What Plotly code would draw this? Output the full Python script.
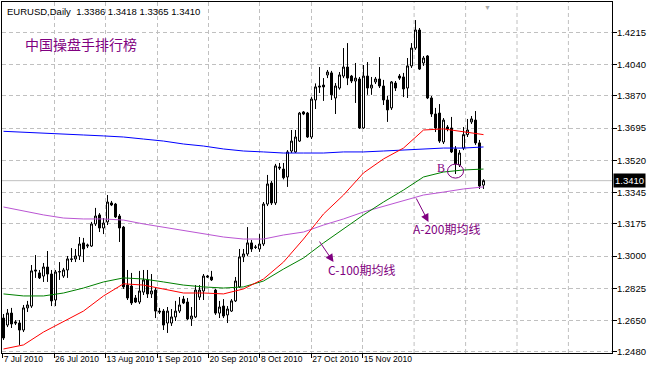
import plotly.graph_objects as go

# ---- data (EURUSD daily) ----
opens = [1.2664,1.2626,1.2691,1.2643,1.2637,1.2599,1.2719,1.2729,1.2925,1.2909,
         1.2892,1.2941,1.2903,1.2762,1.2914,1.2892,1.2925,1.2985,1.2985,1.3001,
         1.3072,1.3055,1.3055,1.3175,1.3224,1.3153,1.3186,1.3289,1.3283,1.3218,
         1.3158,1.2843,1.2838,1.2773,1.2751,1.2805,1.2871,1.2795,1.2816,1.2702,
         1.2702,1.2637,1.2637,1.2670,1.2702,1.2767,1.2751,1.2659,1.2670,1.2778,
         1.2811,1.2892,1.2887,1.2816,1.2691,1.2729,1.2681,1.2702,1.2757,1.2833,
         1.2996,1.3012,1.3072,1.3050,1.3039,1.3066,1.3283,1.3397,1.3289,1.3484,
         1.3473,1.3430,1.3571,1.3566,1.3625,1.3783,1.3777,1.3647,1.3848,1.3924,
         1.3929,1.3984,1.3995,1.3859,1.3913,1.3978,1.4027,1.3978,1.3951,1.3962,
         1.3696,1.3978,1.3913,1.3946,1.3962,1.3924,1.3848,1.3805,1.3940,1.3978,
         1.3973,1.3913,1.4033,1.4130,1.4228,1.4049,1.4087,1.3859,1.3772,1.3777,
         1.3620,1.3701,1.3696,1.3582,1.3495,1.3587,1.3660,1.3729,1.3739,1.3615,
         1.3386]
highs = [1.2686,1.2713,1.2719,1.2653,1.2653,1.2735,1.2757,1.2952,1.3006,1.2925,
         1.2963,1.3028,1.2925,1.2925,1.2968,1.2936,1.3001,1.3044,1.3039,1.3104,
         1.3099,1.3068,1.3186,1.3262,1.3234,1.3207,1.3332,1.3300,1.3289,1.3229,
         1.3164,1.2925,1.2909,1.2789,1.2920,1.2925,1.2925,1.2903,1.2827,1.2719,
         1.2713,1.2724,1.2713,1.2757,1.2778,1.2784,1.2773,1.2724,1.2843,1.2843,
         1.2903,1.2898,1.2920,1.2822,1.2757,1.2767,1.2729,1.2767,1.2887,1.3039,
         1.3039,1.3158,1.3088,1.3061,1.3120,1.3294,1.3441,1.3408,1.3501,1.3506,
         1.3506,1.3576,1.3685,1.3685,1.3783,1.3788,1.3783,1.3864,1.3938,1.4027,
         1.3967,1.4011,1.4006,1.3940,1.4000,1.4130,1.4157,1.3984,1.4049,1.3973,
         1.4038,1.4054,1.3973,1.3973,1.4081,1.3957,1.3870,1.3951,1.3951,1.3989,
         1.3995,1.4076,1.4157,1.4282,1.4239,1.4087,1.4092,1.3870,1.3805,1.3826,
         1.3750,1.3712,1.3756,1.3598,1.3576,1.3701,1.3745,1.3761,1.3788,1.3631,
         1.3418]
lows = [1.2545,1.2615,1.2610,1.2626,1.2518,1.2588,1.2697,1.2719,1.2882,1.2876,
        1.2860,1.2860,1.2729,1.2729,1.2871,1.2882,1.2882,1.2968,1.2968,1.2979,
        1.2968,1.3044,1.3050,1.3164,1.3131,1.3120,1.3169,1.3272,1.3207,1.3077,
        1.2822,1.2762,1.2735,1.2746,1.2740,1.2789,1.2773,1.2773,1.2664,1.2686,
        1.2599,1.2583,1.2621,1.2648,1.2691,1.2740,1.2653,1.2621,1.2664,1.2762,
        1.2762,1.2882,1.2865,1.2681,1.2664,1.2664,1.2637,1.2697,1.2751,1.2827,
        1.2968,1.3001,1.3023,1.3039,1.3023,1.3055,1.3272,1.3278,1.3278,1.3468,
        1.3417,1.3376,1.3560,1.3560,1.3620,1.3766,1.3642,1.3636,1.3799,1.3886,
        1.3843,1.3967,1.3848,1.3772,1.3904,1.3967,1.3929,1.3940,1.3832,1.3691,
        1.3691,1.3876,1.3876,1.3935,1.3913,1.3821,1.3729,1.3794,1.3897,1.3957,
        1.3864,1.3859,1.4022,1.4120,1.4011,1.4033,1.3853,1.3756,1.3674,1.3615,
        1.3609,1.3678,1.3560,1.3446,1.3484,1.3576,1.3647,1.3718,1.3604,1.3365,
        1.3365]
closes = [1.2556,1.2691,1.2632,1.2637,1.2599,1.2719,1.2735,1.2920,1.2920,1.2882,
          1.2941,1.2903,1.2757,1.2914,1.2916,1.2925,1.2985,1.2983,1.3001,1.3066,
          1.3039,1.3060,1.3175,1.3218,1.3153,1.3180,1.3294,1.3278,1.3213,1.3153,
          1.2833,1.2773,1.2746,1.2751,1.2811,1.2871,1.2795,1.2811,1.2702,1.2697,
          1.2626,1.2702,1.2670,1.2702,1.2735,1.2746,1.2659,1.2675,1.2816,1.2816,
          1.2892,1.2887,1.2871,1.2691,1.2724,1.2675,1.2713,1.2757,1.2865,1.2996,
          1.3012,1.3072,1.3039,1.3048,1.3066,1.3283,1.3392,1.3289,1.3490,1.3479,
          1.3426,1.3566,1.3625,1.3647,1.3777,1.3772,1.3647,1.3853,1.3919,1.3919,
          1.3919,1.4000,1.3876,1.3924,1.3984,1.4027,1.3967,1.3951,1.3967,1.3696,
          1.3978,1.3913,1.3929,1.3962,1.3924,1.3848,1.3794,1.3946,1.3913,1.3967,
          1.3908,1.4033,1.4130,1.4228,1.4016,1.4076,1.3859,1.3772,1.3696,1.3625,
          1.3739,1.3691,1.3566,1.3501,1.3560,1.3660,1.3685,1.3745,1.3615,1.3381,
          1.3410]

# moving averages, sampled every 5 bars
ma_bar = [0,5,10,15,20,25,30,35,40,45,50,55,60,65,70,75,80,85,90,95,100,105,110,115,120]
ma_blue = [1.3678,1.3674,1.3669,1.3663,1.3658,1.3653,1.3647,1.3636,1.3625,1.3609,1.3598,1.3582,1.3571,
           1.3566,1.3560,1.3560,1.3560,1.3566,1.3566,1.3571,1.3576,1.3582,1.3587,1.3587,1.3593]
ma_red = [1.2496,1.2518,1.2588,1.2643,1.2702,1.2784,1.2850,1.2843,1.2822,1.2800,1.2800,1.2795,1.2822,
          1.2876,1.2968,1.3093,1.3229,1.3332,1.3452,1.3528,1.3587,1.3685,1.3691,1.3674,1.3660]
ma_green = [1.2795,1.2784,1.2784,1.2800,1.2827,1.2860,1.2882,1.2876,1.2860,1.2843,1.2833,1.2827,1.2833,
            1.2865,1.2930,1.2990,1.3072,1.3148,1.3224,1.3294,1.3359,1.3430,1.3457,1.3468,1.3473]
ma_purple = [1.3267,1.3245,1.3224,1.3207,1.3202,1.3202,1.3196,1.3175,1.3158,1.3137,1.3120,1.3104,1.3093,
             1.3093,1.3115,1.3131,1.3169,1.3202,1.3240,1.3272,1.3300,1.3332,1.3348,1.3365,1.3376]

price_ticks = [1.2480,1.2650,1.2825,1.3000,1.3175,1.3345,1.3520,1.3695,1.3870,1.4040,1.4215]
date_labels = ["7 Jul 2010","26 Jul 2010","13 Aug 2010","1 Sep 2010","20 Sep 2010",
               "8 Oct 2010","27 Oct 2010","15 Nov 2010"]
date_bar = [-0.2,12.65,25.525,38.375,51.225,64.1,76.95,89.8]
extra_grid_bar = [102.65,115.525,128.375,141.225]
last_price = 1.3410

bars = list(range(len(opens)))
PURPLE = "#800080"
GRID = "#c0c0c0"

fig = go.Figure()
fig.add_trace(go.Candlestick(
    x=bars, open=opens, high=highs, low=lows, close=closes,
    increasing=dict(line=dict(color="black", width=1), fillcolor="white"),
    decreasing=dict(line=dict(color="black", width=1), fillcolor="black"),
    whiskerwidth=0, hoverinfo="skip", showlegend=False))

for ys, col in [(ma_blue, "#0000ff"), (ma_purple, "#ba55d3"), (ma_green, "#008000"), (ma_red, "#ff0000")]:
    fig.add_trace(go.Scatter(x=ma_bar, y=ys, mode="lines", line=dict(color=col, width=1),
                             hoverinfo="skip", showlegend=False))

shapes = []
for b in extra_grid_bar:
    shapes.append(dict(type="line", xref="x", yref="paper", x0=b, x1=b, y0=0, y1=1,
                       line=dict(color=GRID, width=1, dash="4px,3px"), layer="below"))
shapes.append(dict(type="line", xref="paper", yref="y", x0=0, x1=1, y0=last_price, y1=last_price,
                   line=dict(color=GRID, width=1), layer="below"))
shapes.append(dict(type="circle", xref="x", yref="y", x0=111, x1=115, y0=1.3424, y1=1.3500,
                   line=dict(color=PURPLE, width=1)))

annotations = [
    dict(xref="paper", yref="paper", x=0.005, y=0.974, xanchor="left", yanchor="middle",
         text="EURUSD,Daily  1.3386 1.3418 1.3365 1.3410", showarrow=False,
         font=dict(family="Liberation Sans, Arial", size=9.5, color="black")),
    dict(xref="paper", yref="paper", x=0.034, y=0.880, xanchor="left", yanchor="middle",
         text="中国操盘手排行榜", showarrow=False,
         font=dict(family="Noto Sans CJK SC", size=14, color=PURPLE)),
    dict(xref="x", yref="y", x=109.25, y=1.3479, text="B", showarrow=False,
         font=dict(family="Liberation Serif", size=12, color=PURPLE)),
    dict(xref="x", yref="y", x=101.75, y=1.3148, xanchor="left", text="A-200期均线", showarrow=False,
         font=dict(family="Noto Sans CJK SC", size=12, color=PURPLE)),
    dict(xref="x", yref="y", x=80.5, y=1.2925, xanchor="left", text="C-100期均线", showarrow=False,
         font=dict(family="Noto Sans CJK SC", size=12, color=PURPLE)),
    dict(xref="x", yref="y", x=106.25, y=1.3186, ax=-13, ay=-25, text="", showarrow=True,
         arrowhead=2, arrowsize=1.6, arrowwidth=1, arrowcolor=PURPLE),
    dict(xref="x", yref="y", x=82.5, y=1.2968, ax=-15, ay=-22, text="", showarrow=True,
         arrowhead=2, arrowsize=1.6, arrowwidth=1, arrowcolor=PURPLE),
    dict(xref="paper", yref="y", x=1, y=last_price, xanchor="left", yanchor="middle", xshift=1,
         text="1.3410", showarrow=False, bgcolor="black", borderpad=1,
         font=dict(family="Liberation Sans, Arial", size=9.5, color="white")),
    dict(xref="x", yref="paper", x=121, y=1, yanchor="top", text="▼", showarrow=False,
         font=dict(size=7, color="#a8a8a8")),
]

fig.update_layout(
    width=651, height=370, margin=dict(l=2, r=39, t=2, b=17, autoexpand=False),
    paper_bgcolor="white", plot_bgcolor="white", showlegend=False,
    font=dict(family="Liberation Sans, Arial", size=9.5, color="black"),
    boxgap=0.5, boxgroupgap=0,
    shapes=shapes, annotations=annotations,
    xaxis=dict(range=[-0.375, 152.125], tickvals=date_bar, ticktext=date_labels, automargin=False,
               ticks="outside", ticklen=4, tickcolor="black", ticklabelposition="outside right",
               tickangle=0, ticklabelstandoff=-2, tickfont=dict(size=8.5),
               showline=True, linecolor="black", linewidth=1, mirror=True,
               showgrid=True, gridcolor=GRID, griddash="4px,3px", zeroline=False,
               rangeslider=dict(visible=False), fixedrange=True),
    yaxis=dict(side="right", range=[1.24742, 1.43801], tickvals=price_ticks, automargin=False,
               ticktext=[f"{v:.4f}" for v in price_ticks], ticklabelstandoff=-2,
               ticks="outside", ticklen=4, tickcolor="black",
               showline=True, linecolor="black", linewidth=1, mirror=True,
               showgrid=True, gridcolor=GRID, griddash="4px,3px", zeroline=False, fixedrange=True),
)

fig.write_html("out.html", config={"displayModeBar": False},
               post_script="document.body.style.margin='0';document.body.style.overflow='hidden';")
